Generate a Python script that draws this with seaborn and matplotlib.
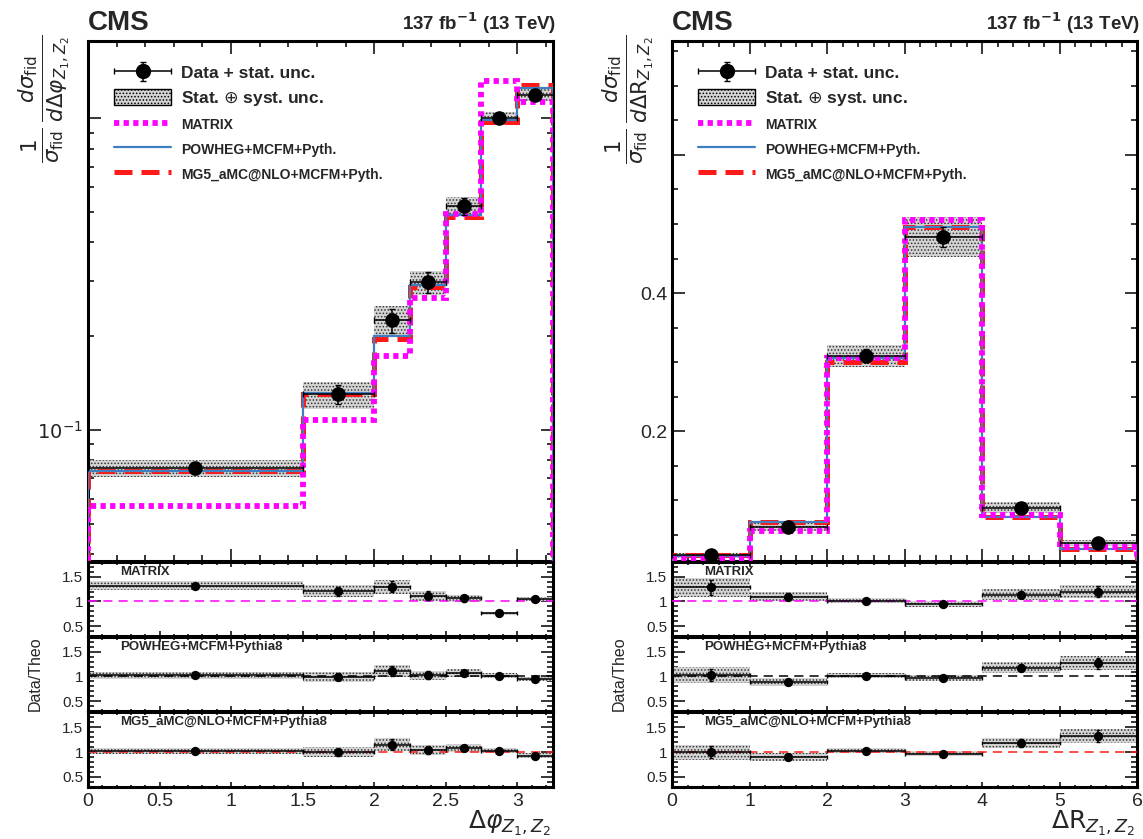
import numpy as np
import matplotlib
matplotlib.use("Agg")
import matplotlib.pyplot as plt
import seaborn as sns
from matplotlib.patches import Patch
from matplotlib.lines import Line2D
from matplotlib.legend_handler import HandlerErrorbar
from matplotlib.ticker import MultipleLocator, FixedLocator, FixedFormatter, NullFormatter

# ---------------- data ----------------
dphi_edges = [0, 1.5, 2.0, 2.25, 2.5, 2.75, 3.0, 3.25]
dphi_data = [0.0755, 0.130, 0.225, 0.298, 0.522, 1.00, 1.19]
dphi_stat = [0.04, 0.07, 0.09, 0.08, 0.06, 0.03, 0.03]     # relative
dphi_tot = [0.065, 0.10, 0.11, 0.09, 0.07, 0.05, 0.045]    # relative
dphi_matrix = [0.0572, 0.108, 0.173, 0.266, 0.492, 1.32, 1.13]
dphi_powheg = [0.074, 0.131, 0.201, 0.292, 0.488, 0.99, 1.25]
dphi_mg5 = [0.074, 0.130, 0.196, 0.287, 0.483, 0.971, 1.28]

dr_edges = [0, 1, 2, 3, 4, 5, 6]
dr_data = [0.020, 0.061, 0.309, 0.481, 0.089, 0.038]
dr_stat = [0.12, 0.06, 0.03, 0.03, 0.06, 0.09]
dr_tot = [0.15, 0.09, 0.05, 0.06, 0.09, 0.11]
dr_matrix = [0.0155, 0.0555, 0.306, 0.506, 0.078, 0.0317]
dr_powheg = [0.0194, 0.069, 0.306, 0.496, 0.0754, 0.030]
dr_mg5 = [0.020, 0.0685, 0.300, 0.496, 0.0754, 0.0288]

legend_labels = ["Data + stat. unc.", "Stat. $\\oplus$ syst. unc.", "MATRIX",
                 "POWHEG+MCFM+Pyth.", "MG5_aMC@NLO+MCFM+Pyth."]
ratio_names = ["MATRIX", "POWHEG+MCFM+Pythia8", "MG5_aMC@NLO+MCFM+Pythia8"]

# ---------------- style ----------------
sns.set_theme(style="ticks")
plt.rcParams["font.family"] = ["Liberation Sans", "DejaVu Sans"]
plt.rcParams["mathtext.fontset"] = "dejavusans"
plt.rcParams["hatch.linewidth"] = 0.7
plt.rcParams["axes.linewidth"] = 2.2

C_MATRIX = "#ff00ff"
C_POWHEG = "#3f7fc0"
C_MG5 = "#ff1a1a"
BAND_FACE = "#d4d4d4"
BAND_HATCH = "#333333"

W, H = 1143, 839
fig = plt.figure(figsize=(W / 100, H / 100), dpi=100)


def rect(x0, x1, y0, y1):
    return [x0 / W, 1 - y1 / H, (x1 - x0) / W, (y1 - y0) / H]


rows = [(41, 561), (562, 636), (637, 711), (712, 787)]


def style_ax(ax, xmaj=9, xmin=4.5, ymaj=9, ymin=4.5):
    ax.tick_params(which="both", direction="in", top=True, right=True,
                   color="black", width=1.1)
    ax.tick_params(axis="x", which="major", length=xmaj)
    ax.tick_params(axis="x", which="minor", length=xmin)
    ax.tick_params(axis="y", which="major", length=ymaj)
    ax.tick_params(axis="y", which="minor", length=ymin)
    for s in ax.spines.values():
        s.set_linewidth(2.2)
        s.set_color("black")


def band(ax, edges, lo, hi):
    lo = np.append(lo, lo[-1])
    hi = np.append(hi, hi[-1])
    ax.fill_between(edges, lo, hi, step="post", facecolor=BAND_FACE,
                    edgecolor=BAND_HATCH, hatch=".....", linewidth=0, zorder=1)


def panel(x0, x1, edges, data, stat, tot, models, logy, ylim, xmajor_lab,
          xlabel, ylabel, yticks, ytlabels, yminor):
    edges = np.array(edges, float)
    data = np.array(data, float)
    stat = np.array(stat, float)
    tot = np.array(tot, float)
    centers = 0.5 * (edges[:-1] + edges[1:])
    halfw = 0.5 * np.diff(edges)

    # ---- main panel
    ax = fig.add_axes(rect(x0, x1, *rows[0]))
    band(ax, edges, data * (1 - tot), data * (1 + tot))
    base = 1e-4 if logy else 0.0
    m_matrix, m_powheg, m_mg5 = [np.array(m, float) for m in models]
    ax.stairs(m_mg5, edges, baseline=base, color=C_MG5, lw=3.6,
              linestyle=(0, (3.6, 1.8)), zorder=3)
    ax.stairs(m_powheg, edges, baseline=base, color=C_POWHEG, lw=1.6, zorder=4)
    ax.stairs(m_matrix, edges, baseline=base, color=C_MATRIX, lw=4.2,
              linestyle=(0, (0.9, 0.75)), zorder=5)
    ax.errorbar(centers, data, xerr=halfw, yerr=data * stat, fmt="none",
                ecolor="black", elinewidth=1.1, capsize=2, zorder=6)
    sns.scatterplot(x=centers, y=data, ax=ax, color="black", s=110,
                    edgecolor="black", linewidth=0, zorder=7, legend=False)
    if logy:
        ax.set_yscale("log")
    ax.set_xlim(edges[0], edges[-1])
    ax.set_ylim(*ylim)
    ax.yaxis.set_major_locator(FixedLocator(yticks))
    ax.yaxis.set_major_formatter(FixedFormatter(ytlabels))
    ax.yaxis.set_minor_locator(FixedLocator(yminor))
    ax.yaxis.set_minor_formatter(NullFormatter())
    ax.xaxis.set_major_locator(MultipleLocator(1.0))
    ax.xaxis.set_minor_locator(MultipleLocator(0.2))
    ax.set_xticklabels([])
    ax.tick_params(axis="y", labelsize=14)
    ax.set_xlabel("")
    ax.set_ylabel("")
    style_ax(ax)

    h_data = ax.errorbar([np.nan], [np.nan], xerr=[1], yerr=[1], fmt="o",
                         color="black", ms=10, elinewidth=1.1, capsize=2.5)
    h_band = Patch(facecolor=BAND_FACE, edgecolor="black", hatch=".....", lw=1.0)
    h_m = Line2D([], [], color=C_MATRIX, lw=4.2, linestyle=(0, (0.9, 0.75)))
    h_p = Line2D([], [], color=C_POWHEG, lw=1.6)
    h_g = Line2D([], [], color=C_MG5, lw=3.6, linestyle=(0, (3.6, 1.8)))
    leg = ax.legend([h_data, h_band, h_m, h_p, h_g], legend_labels,
                    loc="upper left", bbox_to_anchor=(0.022, 0.985),
                    frameon=False, handlelength=3.3, handleheight=1.0,
                    handletextpad=0.55, labelspacing=0.45,
                    handler_map={h_data: HandlerErrorbar(xerr_size=1.65, yerr_size=0.55)},
                    prop={"weight": "bold", "size": 12.5})
    for t in leg.get_texts()[2:]:
        t.set_fontsize(10)

    # CMS labels
    fig.text(x0 / W, 1 - 30 / H, "CMS", fontsize=20, fontweight="bold",
             ha="left", va="baseline")
    fig.text((x1 + 3) / W, 1 - 30 / H, r"137 fb$^{\mathbf{-1}}$ (13 TeV)",
             fontsize=13.5, fontweight="bold", ha="right", va="baseline")
    fig.text((x0 - 44) / W, 1 - 34 / H, ylabel, rotation=90, fontsize=22,
             ha="center", va="top")

    # ---- ratio panels
    for i, (m, c, name) in enumerate(zip([m_matrix, m_powheg, m_mg5],
                                         [C_MATRIX, "black", C_MG5],
                                         ratio_names)):
        rax = fig.add_axes(rect(x0, x1, *rows[i + 1]))
        r = data / m
        band(rax, edges, r * (1 - tot), r * (1 + tot))
        rax.axhline(1.0, color=c, lw=1.1, linestyle=(0, (6, 4)), zorder=3)
        rax.errorbar(centers, r, xerr=halfw, yerr=r * stat, fmt="none",
                     ecolor="black", elinewidth=1.1, capsize=1.5, zorder=5)
        sns.scatterplot(x=centers, y=r, ax=rax, color="black", s=45,
                        edgecolor="black", linewidth=0, zorder=6, legend=False)
        rax.set_xlim(edges[0], edges[-1])
        rax.set_ylim(0.3, 1.8)
        rax.yaxis.set_major_locator(FixedLocator([0.5, 1.0, 1.5]))
        rax.yaxis.set_major_formatter(FixedFormatter(["0.5", "1", "1.5"]))
        rax.yaxis.set_minor_locator(MultipleLocator(0.1))
        rax.xaxis.set_major_locator(FixedLocator(xmajor_lab[0]))
        rax.xaxis.set_minor_locator(MultipleLocator(xmajor_lab[2]))
        rax.tick_params(axis="y", labelsize=11)
        rax.set_xlabel("")
        rax.set_ylabel("")
        style_ax(rax, xmaj=3.5, xmin=1.8, ymaj=9, ymin=4)
        if i < 2:
            rax.set_xticklabels([])
        else:
            rax.xaxis.set_major_formatter(FixedFormatter(xmajor_lab[1]))
            rax.tick_params(axis="x", labelsize=14, pad=4)
        rax.text(0.07, 0.95, name, transform=rax.transAxes, fontsize=9.5,
                 fontweight="bold", ha="left", va="top", zorder=8)
    fig.text((x0 - 53) / W, 1 - 674 / H, "Data/Theo", rotation=90,
             fontsize=11.5, ha="center", va="center")
    fig.text((x1 - 2) / W, 1 - 838 / H, xlabel, fontsize=18, ha="right",
             va="bottom")


panel(88, 553, dphi_edges, dphi_data, dphi_stat, dphi_tot,
      [dphi_matrix, dphi_powheg, dphi_mg5], True, (0.038, 1.77),
      ([0, 0.5, 1, 1.5, 2, 2.5, 3], ["0", "0.5", "1", "1.5", "2", "2.5", "3"], 0.1),
      r"$\Delta\varphi_{Z_1,Z_2}$",
      r"$\frac{1}{\sigma_{\rm fid}}\,\frac{d\sigma_{\rm fid}}{d\Delta\varphi_{Z_1,Z_2}}$",
      [0.1, 1.0], [r"$10^{-1}$", ""],
      [0.04, 0.05, 0.06, 0.07, 0.08, 0.09, 0.2, 0.3, 0.4, 0.5, 0.6, 0.7, 0.8, 0.9])

panel(672, 1137, dr_edges, dr_data, dr_stat, dr_tot,
      [dr_matrix, dr_powheg, dr_mg5], False, (0.012, 0.765),
      ([0, 1, 2, 3, 4, 5, 6], ["0", "1", "2", "3", "4", "5", "6"], 0.2),
      r"$\Delta{\rm R}_{Z_1,Z_2}$",
      r"$\frac{1}{\sigma_{\rm fid}}\,\frac{d\sigma_{\rm fid}}{d\Delta{\rm R}_{Z_1,Z_2}}$",
      [0.2, 0.4, 0.6], ["0.2", "0.4", ""],
      [0.05, 0.1, 0.15, 0.25, 0.3, 0.35, 0.45, 0.5, 0.55, 0.65, 0.7, 0.75])

fig.savefig("out.png", dpi=100)
